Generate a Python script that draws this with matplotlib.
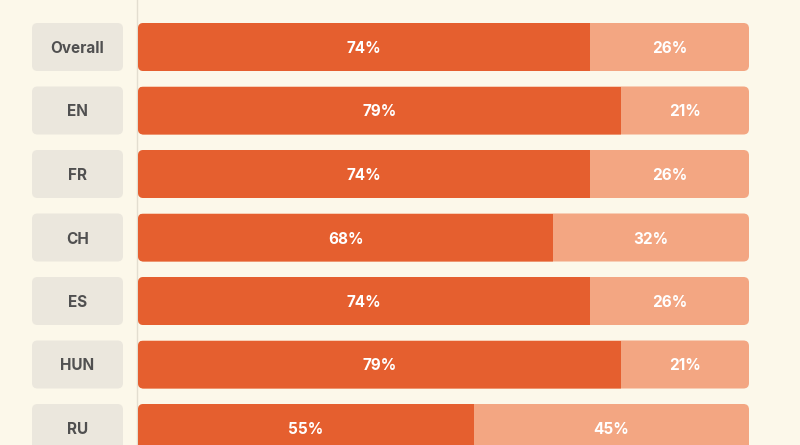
import matplotlib
matplotlib.use("Agg")
import matplotlib.pyplot as plt
from matplotlib.patches import FancyBboxPatch, Rectangle

categories = ["Overall", "EN", "FR", "CH", "ES", "HUN", "RU"]
yes_pct = [74, 79, 74, 68, 74, 79, 55]
no_pct = [26, 21, 26, 32, 26, 21, 45]

BG = "#fcf8ea"
DARK = "#e55f2f"
LIGHT = "#f3a682"
BOX = "#ebe7dd"
TXT = "#505050"

W, H = 800, 445
fig = plt.figure(figsize=(W / 100, H / 100), dpi=100, facecolor=BG)
ax = fig.add_axes([0, 0, 1, 1])
ax.set_facecolor(BG)

# pixel layout -> data mapping
x0_px, x100_px = 138, 749
pxu = (x100_px - x0_px) / 100.0
row0_px, pitch = 47, 63.5
ax.set_xlim(-x0_px / pxu, (W - x0_px) / pxu)
ax.set_ylim((H - row0_px) / pitch, (0 - row0_px) / pitch)
ax.axis("off")

bar_h = 48 / pitch
aspect = (1 / pitch) / (1 / pxu)
r = 5.5 / pxu
dy = 1.5 / pitch  # small text nudge

ax.axvline(-1 / pxu, color="#e3ded0", lw=1.0, zorder=1)

font = ["Inter", "DejaVu Sans"]
fs = 11
for i, (cat, a, b) in enumerate(zip(categories, yes_pct, no_pct)):
    yb = i - bar_h / 2
    # label box
    bx0, bx1 = (32 - x0_px) / pxu, (123 - x0_px) / pxu
    ax.add_patch(FancyBboxPatch((bx0, yb), bx1 - bx0, bar_h,
                                boxstyle=f"round,pad=0,rounding_size={r}",
                                mutation_aspect=aspect, fc=BOX, ec="none", zorder=2))
    ax.text((bx0 + bx1) / 2, i + dy, cat, ha="center", va="center", fontsize=fs,
            fontweight="bold", color=TXT, family=font, zorder=5)
    # full light bar (rounded)
    full = FancyBboxPatch((0, yb), a + b, bar_h,
                          boxstyle=f"round,pad=0,rounding_size={r}",
                          mutation_aspect=aspect, fc=LIGHT, ec="none", zorder=2)
    ax.add_patch(full)
    # dark part clipped to the rounded outline
    dark = Rectangle((0, yb), a, bar_h, fc=DARK, ec="none", zorder=3)
    ax.add_patch(dark)
    dark.set_clip_path(full)
    ax.text(a / 2, i + dy, f"{a}%", ha="center", va="center", fontsize=fs,
            fontweight="bold", color="white", family=font, zorder=5)
    ax.text(a + b / 2, i + dy, f"{b}%", ha="center", va="center", fontsize=fs,
            fontweight="bold", color="white", family=font, zorder=5)

fig.savefig("out.png", dpi=100, facecolor=BG)
